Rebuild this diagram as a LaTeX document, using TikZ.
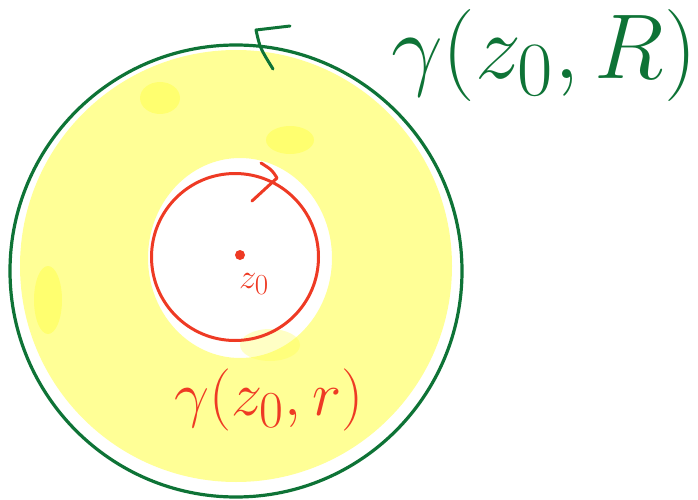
\documentclass[tikz,border=0pt]{standalone}
\usepackage{amsmath}
\usepackage{graphicx}
\usepackage{xcolor}
\usepackage{tikz}
\definecolor{inkgreen}{HTML}{0E7336}
\definecolor{inkred}{HTML}{EE3A24}
\definecolor{hlyellow}{HTML}{FFFF96}
\definecolor{hlbright}{HTML}{FFFF40}
\newcommand{\bigsym}[2]{\scalebox{#1}{\Huge$#2$}}

\begin{document}
\begin{tikzpicture}[x=1pt,y=-1pt,line cap=round,line join=round]
  \tikzset{
    outerpath/.style={draw=inkgreen, line width=3.2pt},
    innerpath/.style={draw=inkred, line width=3pt},
    tick/.style={line width=3pt},
  }
  \useasboundingbox (0,0) rectangle (698,500);

  \coordinate (z0) at (240,255);

  \fill[hlyellow, even odd rule]
    (236,266) circle (216)
    (240,258) ellipse (92 and 100);
  \fill[hlbright, opacity=0.45] (160,98) ellipse (20 and 16);
  \fill[hlbright, opacity=0.45] (290,140) ellipse (24 and 14);
  \fill[hlbright, opacity=0.45] (48,300) ellipse (14 and 34);
  \fill[hlbright, opacity=0.3] (270,345) ellipse (30 and 16);

  \draw[outerpath] (236,271) circle (226);
  \draw[innerpath] (235,257) circle (83.5);

  \draw[tick, inkgreen] (290,26) -- (256,30) .. controls (260,48) .. (273,69);
  \draw[tick, inkred] (261,163) .. controls (272,170) .. (277,178) -- (252,201);

  \fill[inkred] (z0) circle (5);
  \node[text=inkred] (zlabel) at (254,284) {\bigsym{1.4}{z_{0}}};

  \node[text=inkgreen] (outerlabel) at (544,55) {\bigsym{3.7}{\gamma(z_{0},R)}};
  \node[text=inkred] (innerlabel) at (269,400) {\bigsym{2.5}{\gamma(z_{0},r)}};
\end{tikzpicture}
\end{document}
